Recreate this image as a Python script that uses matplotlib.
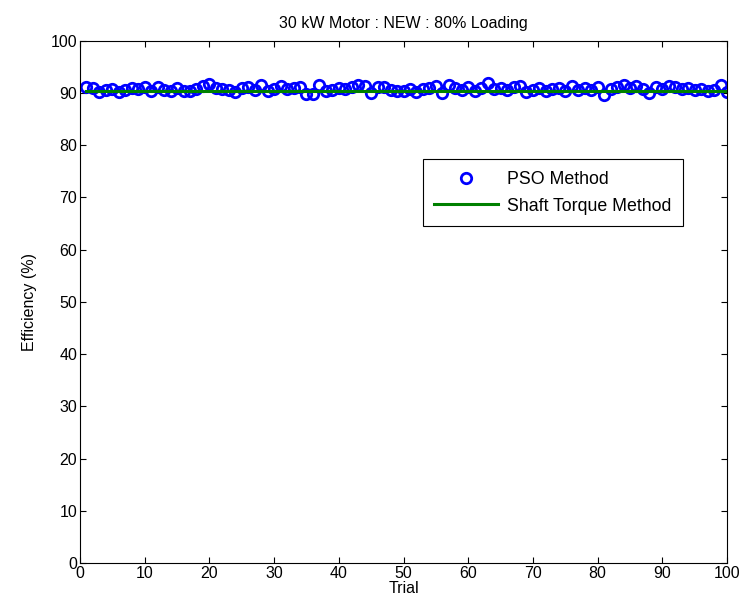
import numpy as np
import matplotlib.pyplot as plt

plt.rcParams['font.family'] = ['Liberation Sans', 'DejaVu Sans']

# ----- Dati -----
trial = np.arange(1, 101)
pso = [90.8, 90.6, 89.8, 90.2, 90.4, 89.8, 90.1, 90.6, 90.3, 90.7,
       90.0, 90.8, 90.2, 89.9, 90.5, 90.0, 89.9, 90.4, 90.9, 91.3,
       90.6, 90.4, 90.1, 89.8, 90.6, 90.7, 90.2, 91.2, 89.9, 90.4,
       90.9, 90.3, 90.6, 90.8, 89.4, 89.4, 91.2, 89.9, 90.1, 90.5,
       90.3, 90.7, 91.2, 90.9, 89.5, 90.8, 90.7, 90.2, 90.0, 89.9,
       90.4, 89.8, 90.3, 90.5, 90.9, 89.5, 91.1, 90.6, 90.2, 90.7,
       90.0, 90.5, 91.5, 90.3, 90.6, 90.1, 90.8, 90.9, 89.8, 90.2,
       90.5, 89.9, 90.3, 90.6, 89.9, 90.9, 90.2, 90.5, 90.1, 90.7,
       89.2, 90.4, 90.8, 91.2, 90.6, 90.9, 90.3, 89.5, 90.7, 90.4,
       91.0, 90.8, 90.3, 90.6, 90.1, 90.4, 90.0, 90.2, 91.1, 89.8]
pso = [v + 0.4 for v in pso]
shaft = [90.4] * 100


def main():
    fig = plt.figure(figsize=(7.43, 5.99), dpi=100)
    ax = fig.add_axes([0.1077, 0.06, 0.8708, 0.872])

    ax.plot(trial, pso, linestyle='none', marker='o', markersize=7.5,
            markerfacecolor='none', markeredgecolor='#0000ff',
            markeredgewidth=2, label='PSO Method')
    ax.plot(trial, shaft, color='#008000', linewidth=2.2,
            label='Shaft Torque Method')

    ax.set_xlim(0, 100)
    ax.set_ylim(0, 100)
    ax.set_xticks(np.arange(0, 101, 10))
    ax.set_yticks(np.arange(0, 101, 10))
    ax.tick_params(direction='in', top=True, right=True, labelsize=11.5,
                   length=4, pad=2)
    ax.set_xlabel('Trial', fontsize=11.5, labelpad=0)
    ax.set_ylabel('Efficiency (%)', fontsize=11.5, labelpad=10)
    ax.set_title('30 kW Motor : NEW : 80% Loading', fontsize=11.5, pad=9)

    leg = ax.legend(loc='upper left', bbox_to_anchor=(0.53, 0.773),
                    fontsize=12.8, frameon=True, fancybox=False,
                    edgecolor='black', framealpha=1, handlelength=3.6,
                    borderpad=0.65, labelspacing=0.55, handletextpad=0.5,
                    borderaxespad=0)
    leg.get_frame().set_linewidth(0.8)

    plt.savefig('out.png')


if __name__ == '__main__':
    main()
